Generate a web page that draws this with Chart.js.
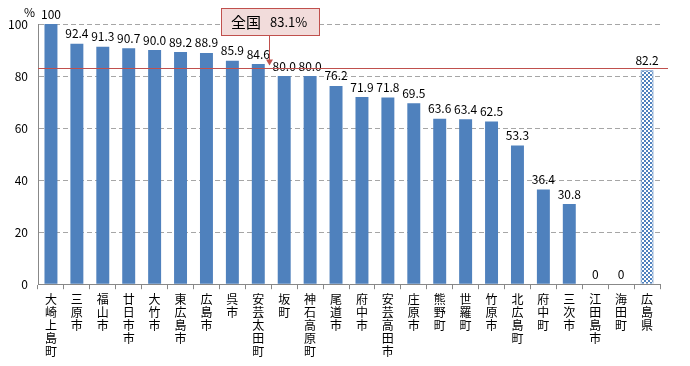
<!DOCTYPE html>
<html>
<head>
<meta charset="utf-8">
<script src="https://cdn.jsdelivr.net/npm/chart.js@4"></script>
<style>
  html, body { margin: 0; padding: 0; background: #fff; }
  #wrap { width: 690px; height: 366px; }
</style>
</head>
<body>
<div id="wrap"><canvas id="myChart" width="690" height="366"></canvas></div>
<script>
// ----------------- DATA -----------------
var cities = ["大崎上島町", "三原市", "福山市", "廿日市市", "大竹市", "東広島市", "広島市", "呉市",
              "安芸太田町", "坂町", "神石高原町", "尾道市", "府中市", "安芸高田市", "庄原市", "熊野町",
              "世羅町", "竹原市", "北広島町", "府中町", "三次市", "江田島市", "海田町", "広島県"];
var rates = [100, 92.4, 91.3, 90.7, 90.0, 89.2, 88.9, 85.9, 84.6, 80.0, 80.0, 76.2,
             71.9, 71.8, 69.5, 63.6, 63.4, 62.5, 53.3, 36.4, 30.8, 0, 0, 82.2];
var rateLabels = ["100", "92.4", "91.3", "90.7", "90.0", "89.2", "88.9", "85.9", "84.6", "80.0", "80.0", "76.2",
                  "71.9", "71.8", "69.5", "63.6", "63.4", "62.5", "53.3", "36.4", "30.8", "0", "0", "82.2"];
var national = 83.1;
var nationalName = "全国";
var nationalValue = "83.1%";

var BLUE = "#4f81bd";
var FONT = "'Noto Sans CJK JP', 'DejaVu Sans', sans-serif";

// ----------------- HELPERS -----------------
// checkered pattern for the prefecture bar
function makePattern() {
    var c = document.createElement("canvas");
    c.width = 4; c.height = 4;
    var g = c.getContext("2d");
    g.fillStyle = "#ffffff";
    g.fillRect(0, 0, 4, 4);
    g.fillStyle = BLUE;
    g.fillRect(0, 0, 2, 2);
    g.fillRect(2, 2, 2, 2);
    return g.createPattern(c, "repeat");
}

var fills = [];
var borderW = [];
for (var i = 0; i < cities.length; i++) {
    if (cities[i] == "広島県") {
        fills.push(makePattern());
        borderW.push(1);
    } else {
        fills.push(BLUE);
        borderW.push(0);
    }
}

// stack characters vertically
var stackedLabels = cities.map(function(s) { return s.split(""); });

// draws value labels, national line and the callout box
var extras = {
    id: "extras",
    afterDatasetsDraw: function(chart) {
        var ctx = chart.ctx;
        var meta = chart.getDatasetMeta(0);
        var yScale = chart.scales.y;
        var area = chart.chartArea;

        ctx.save();
        ctx.fillStyle = "#000";
        ctx.font = "12px " + FONT;
        ctx.textAlign = "center";
        ctx.textBaseline = "bottom";
        meta.data.forEach(function(bar, i) {
            ctx.fillText(rateLabels[i], bar.x, bar.y - 4);
        });

        // national line
        var ly = Math.round(yScale.getPixelForValue(national)) + 0.5;
        ctx.strokeStyle = "#c0504d";
        ctx.lineWidth = 1;
        ctx.beginPath();
        ctx.moveTo(area.left, ly);
        ctx.lineTo(area.right + 8, ly);
        ctx.stroke();

        // callout
        var bx = 221, by = 8, bw = 98, bh = 27;
        var ax = 269;
        ctx.fillStyle = "#f2dcdb";
        ctx.fillRect(bx, by, bw, bh);
        ctx.strokeRect(bx + 0.5, by + 0.5, bw, bh);
        ctx.beginPath();
        ctx.moveTo(ax + 0.5, by + bh + 1);
        ctx.lineTo(ax + 0.5, ly - 5);
        ctx.stroke();
        ctx.fillStyle = "#c0504d";
        ctx.beginPath();
        ctx.moveTo(ax - 3, ly - 9);
        ctx.lineTo(ax + 4, ly - 9);
        ctx.lineTo(ax + 0.5, ly - 3);
        ctx.closePath();
        ctx.fill();

        ctx.fillStyle = "#000";
        ctx.textBaseline = "middle";
        ctx.textAlign = "left";
        ctx.font = "15px " + FONT;
        ctx.fillText(nationalName, bx + 10, by + bh / 2 + 1);
        ctx.font = "13px " + FONT;
        ctx.fillText(nationalValue, bx + 49, by + bh / 2 + 1);

        // unit
        ctx.font = "12px " + FONT;
        ctx.fillText("%", 24, 12);
        ctx.restore();
    }
};

// ----------------- CHART -----------------
var myChart = new Chart("myChart", {
    type: "bar",
    data: {
        labels: stackedLabels,
        datasets: [{
            data: rates,
            backgroundColor: fills,
            borderColor: BLUE,
            borderWidth: borderW,
            barPercentage: 0.5,
            categoryPercentage: 1.0
        }]
    },
    options: {
        responsive: false,
        animation: false,
        layout: { padding: { top: 24, right: 30, left: 0, bottom: 4 } },
        plugins: { legend: { display: false }, tooltip: { enabled: false } },
        scales: {
            x: {
                grid: {
                    offset: true,
                    drawOnChartArea: false,
                    tickLength: 5,
                    color: "#888"
                },
                border: { color: "#888" },
                ticks: {
                    autoSkip: false,
                    maxRotation: 0,
                    minRotation: 0,
                    padding: 4,
                    color: "#000",
                    font: { family: FONT, size: 12, lineHeight: 1.08 }
                }
            },
            y: {
                min: 0,
                max: 100,
                afterFit: function(scale) { scale.width = 38; },
                ticks: {
                    stepSize: 20,
                    padding: 10,
                    color: "#000",
                    font: { family: FONT, size: 12 }
                },
                grid: {
                    color: "#a6a6a6",
                    drawTicks: false
                },
                border: { color: "#888", dash: [5, 3] }
            }
        }
    },
    plugins: [extras]
});
</script>
</body>
</html>
